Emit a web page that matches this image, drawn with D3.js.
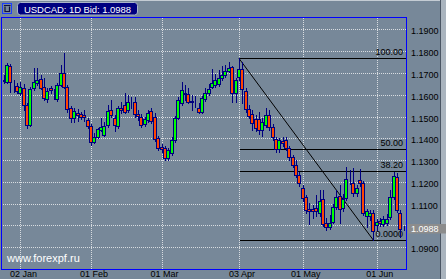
<!DOCTYPE html>
<html><head><meta charset="utf-8">
<script src="https://cdn.jsdelivr.net/npm/d3@7"></script>
<style>html,body{margin:0;padding:0;background:#778899;overflow:hidden}</style>
</head><body><svg id="c" width="446" height="279"></svg>
<script>
const symbol = "USDCAD";
const timeframe = "1D";
const bid = 1.0988;
const watermark = "www.forexpf.ru";

const opens = [
1.1667,1.1660,1.1731,1.1646,1.1639,1.1610,1.1630,1.1552,1.1463,1.1629,
1.1652,1.1672,1.1635,1.1579,1.1629,1.1603,1.1579,1.1644,1.1698,1.1636,
1.1537,1.1491,1.1517,1.1511,1.1507,1.1484,1.1456,1.1384,1.1407,1.1438,
1.1415,1.1461,1.1529,1.1491,1.1456,1.1539,1.1552,1.1529,1.1561,1.1567,
1.1511,1.1499,1.1465,1.1484,1.1523,1.1499,1.1400,1.1361,1.1354,1.1308,
1.1331,1.1392,1.1493,1.1560,1.1607,1.1603,1.1571,1.1560,1.1537,1.1522,
1.1579,1.1606,1.1636,1.1644,1.1647,1.1675,1.1690,1.1710,1.1725,1.1606,
1.1679,1.1716,1.1618,1.1534,1.1511,1.1487,1.1487,1.1438,1.1461,1.1507,
1.1450,1.1395,1.1349,1.1388,1.1392,1.1354,1.1315,1.1277,1.1231,1.1170,
1.1132,1.1075,1.1075,1.1078,1.1056,1.1121,1.1012,1.0993,1.1017,1.1083,
1.1135,1.1080,1.1124,1.1205,1.1196,1.1147,1.1208,1.1193,1.1043,1.1043,
1.1058,1.1002,1.1020,1.1007,1.1011,1.1040,1.1132,1.1223,1.1058,1.0990];
const highs = [
1.1690,1.1745,1.1740,1.1667,1.1653,1.1658,1.1649,1.1561,1.1636,1.1721,
1.1722,1.1690,1.1676,1.1630,1.1639,1.1626,1.1653,1.1736,1.1792,1.1644,
1.1548,1.1539,1.1534,1.1520,1.1529,1.1493,1.1465,1.1424,1.1447,1.1493,
1.1474,1.1552,1.1575,1.1507,1.1548,1.1566,1.1606,1.1598,1.1589,1.1589,
1.1529,1.1511,1.1497,1.1529,1.1539,1.1516,1.1410,1.1373,1.1364,1.1355,
1.1406,1.1502,1.1589,1.1658,1.1644,1.1630,1.1598,1.1594,1.1561,1.1594,
1.1630,1.1649,1.1716,1.1695,1.1713,1.1731,1.1736,1.1750,1.1731,1.1676,
1.1767,1.1750,1.1630,1.1552,1.1529,1.1507,1.1520,1.1493,1.1539,1.1529,
1.1465,1.1406,1.1401,1.1406,1.1406,1.1364,1.1323,1.1300,1.1245,1.1185,
1.1139,1.1103,1.1094,1.1139,1.1162,1.1162,1.1034,1.1048,1.1098,1.1162,
1.1185,1.1144,1.1269,1.1254,1.1262,1.1185,1.1257,1.1204,1.1075,1.1071,
1.1071,1.1029,1.1034,1.1043,1.1052,1.1162,1.1245,1.1240,1.1071,1.0997];
const lows = [
1.1653,1.1653,1.1613,1.1612,1.1607,1.1598,1.1529,1.1447,1.1456,1.1621,
1.1644,1.1626,1.1575,1.1567,1.1607,1.1580,1.1571,1.1639,1.1630,1.1522,
1.1476,1.1474,1.1479,1.1488,1.1479,1.1447,1.1369,1.1378,1.1401,1.1433,
1.1410,1.1452,1.1497,1.1434,1.1447,1.1516,1.1516,1.1520,1.1539,1.1497,
1.1484,1.1452,1.1456,1.1474,1.1470,1.1387,1.1346,1.1337,1.1300,1.1300,
1.1323,1.1383,1.1488,1.1552,1.1575,1.1561,1.1529,1.1543,1.1516,1.1516,
1.1571,1.1598,1.1630,1.1635,1.1639,1.1667,1.1681,1.1704,1.1567,1.1567,
1.1667,1.1561,1.1520,1.1493,1.1438,1.1433,1.1419,1.1410,1.1452,1.1438,
1.1392,1.1337,1.1337,1.1364,1.1346,1.1300,1.1268,1.1222,1.1181,1.1112,
1.1057,1.1007,1.1034,1.1043,1.1043,1.0997,1.0979,1.0984,1.1011,1.1075,
1.1011,1.1066,1.1117,1.1190,1.1135,1.1135,1.1181,1.1048,1.0994,1.1025,
1.0933,1.0979,1.0997,1.0997,1.1002,1.1029,1.1121,1.1062,1.0947,1.0979];
const closes = [
1.1665,1.1738,1.1656,1.1644,1.1619,1.1636,1.1555,1.1463,1.1624,1.1656,
1.1667,1.1629,1.1583,1.1618,1.1620,1.1601,1.1644,1.1698,1.1636,1.1533,
1.1491,1.1527,1.1507,1.1496,1.1497,1.1456,1.1384,1.1407,1.1441,1.1452,
1.1456,1.1526,1.1507,1.1461,1.1537,1.1529,1.1522,1.1567,1.1560,1.1511,
1.1502,1.1461,1.1487,1.1517,1.1478,1.1395,1.1354,1.1349,1.1308,1.1346,
1.1392,1.1491,1.1575,1.1621,1.1603,1.1567,1.1566,1.1561,1.1522,1.1583,
1.1606,1.1624,1.1655,1.1667,1.1675,1.1690,1.1708,1.1721,1.1609,1.1667,
1.1716,1.1624,1.1533,1.1502,1.1468,1.1445,1.1438,1.1476,1.1507,1.1450,
1.1404,1.1349,1.1392,1.1379,1.1355,1.1315,1.1277,1.1231,1.1193,1.1124,
1.1071,1.1068,1.1068,1.1066,1.1113,1.1007,1.0991,1.1011,1.1086,1.1132,
1.1074,1.1121,1.1212,1.1204,1.1147,1.1170,1.1193,1.1058,1.1066,1.1057,
1.0974,1.1017,1.1011,1.1028,1.1029,1.1132,1.1227,1.1071,1.0982,1.0988];

const dateLabels = ["02 Jan","01 Feb","01 Mar","03 Apr","01 May","01 Jun"];
const dateLabelBars = [5,26,47,70,89,111];
const priceTicks = [1.09,1.10,1.11,1.12,1.13,1.14,1.15,1.16,1.17,1.18,1.19];
const fibLevels = [0, 38.2, 50, 100];
const fibLabels = ["0.0000","38.20","50.00","100.00"];
const fibHighBar = 70, fibLowBar = 110;

const svg = d3.select("#c");
const W = 446, H = 279;
const plot = {l:2, r:406, t:17, b:269};
const FONT = "'Liberation Sans', Arial, sans-serif";

svg.append("rect").attr("width",W).attr("height",H).attr("fill","#778899");
// window edges
svg.append("line").attr("x1",0).attr("x2",W).attr("y1",0.5).attr("y2",0.5).attr("stroke","#c4ccd4");
svg.append("rect").attr("x",441).attr("y",0).attr("width",5).attr("height",H).attr("fill","#aab4be");
svg.append("line").attr("x1",440.5).attr("x2",440.5).attr("y1",0).attr("y2",H).attr("stroke","#4a5563");

const x = d3.scaleLinear().domain([0, opens.length-1]).range([3.6, 403.6]);
const y = d3.scaleLinear().domain([1.09, 1.19]).range([247.3, 29.3]);
const px = v => Math.round(v) + 0.5;

// grid
const grid = svg.append("g").attr("shape-rendering","crispEdges")
  .attr("stroke","#d8dce0").attr("stroke-dasharray","1,1");
grid.selectAll("line.h").data(priceTicks).join("line").attr("class","h")
  .attr("x1",plot.l+1).attr("x2",plot.r).attr("y1",d=>px(y(d))).attr("y2",d=>px(y(d)));
grid.selectAll("line.v").data(dateLabelBars).join("line").attr("class","v")
  .attr("x1",d=>px(x(d))).attr("x2",d=>px(x(d))).attr("y1",plot.t+1).attr("y2",plot.b);

svg.append("clipPath").attr("id","clip").append("rect")
  .attr("x",plot.l+1).attr("y",plot.t+1).attr("width",plot.r-plot.l-1).attr("height",plot.b-plot.t-1);

// fibonacci
const fHigh = highs[fibHighBar], fLow = lows[fibLowBar];
const fg = svg.append("g").attr("clip-path","url(#clip)");
fg.selectAll("line.fib").data(fibLevels).join("line").attr("class","fib")
  .attr("shape-rendering","crispEdges")
  .attr("x1",px(x(fibHighBar))).attr("x2",plot.r)
  .attr("y1",d=>px(y(fLow + d/100*(fHigh-fLow)))).attr("y2",d=>px(y(fLow + d/100*(fHigh-fLow))))
  .attr("stroke","#000").attr("stroke-width",1);
fg.append("line").attr("x1",x(fibHighBar)).attr("y1",y(fHigh)).attr("x2",x(fibLowBar)).attr("y2",y(fLow))
  .attr("stroke","#000").attr("stroke-width",1);

// candles
const bars = d3.range(opens.length).map(i => ({i, o:opens[i], h:highs[i], l:lows[i], c:closes[i]}));
const cg = svg.append("g").attr("clip-path","url(#clip)").attr("shape-rendering","crispEdges");
cg.selectAll("line.wick").data(bars).join("line").attr("class","wick")
  .attr("x1",d=>px(x(d.i))).attr("x2",d=>px(x(d.i)))
  .attr("y1",d=>Math.round(y(d.h))).attr("y2",d=>Math.round(y(d.l))+1)
  .attr("stroke","#000080");
cg.selectAll("rect.body").data(bars).join("rect").attr("class","body")
  .attr("x",d=>Math.round(x(d.i))-1.5).attr("width",3)
  .attr("y",d=>Math.round(y(Math.max(d.o,d.c)))+0.5)
  .attr("height",d=>Math.max(0, Math.round(y(Math.min(d.o,d.c))) - Math.round(y(Math.max(d.o,d.c)))))
  .attr("fill",d=>d.c>d.o ? "#00ff00" : "#ff4500")
  .attr("stroke","#000080").attr("stroke-width",1);

// fib labels
fg.selectAll("text.fibl").data(fibLevels).join("text").attr("class","fibl")
  .attr("x",403).attr("y",d=>Math.round(y(fLow + d/100*(fHigh-fLow)))-3)
  .attr("text-anchor","end").attr("font-family",FONT).attr("font-size",9).attr("fill","#000")
  .text((d,i)=>fibLabels[i]);

// frame
svg.append("rect").attr("x",plot.l-0.5).attr("y",plot.t+0.5).attr("width",plot.r-plot.l+0.5).attr("height",plot.b-plot.t)
  .attr("fill","none").attr("stroke","#0000ff").attr("shape-rendering","crispEdges");

// price axis
const yAxis = d3.axisRight(y).tickValues(priceTicks).tickFormat(d3.format(".4f")).tickSize(0).tickPadding(0);
svg.append("g").attr("transform","translate(411,0)").call(yAxis)
  .call(g=>g.select(".domain").remove())
  .call(g=>g.selectAll("text").attr("x",0).attr("dy",null).attr("y",4.5)
     .attr("fill","#000").attr("font-family",FONT).attr("font-size",9));

// date axis
const xAxis = d3.axisBottom(x).tickValues(dateLabelBars).tickFormat((d,i)=>dateLabels[i]).tickSize(0).tickPadding(0);
svg.append("g").attr("transform",`translate(2.5,${plot.b})`).call(xAxis)
  .call(g=>g.select(".domain").remove())
  .call(g=>g.selectAll("text").attr("dy",null).attr("y",7.5)
     .attr("fill","#000").attr("font-family",FONT).attr("font-size",9));

// current price box
const by = Math.round(y(bid));
svg.append("rect").attr("x",408).attr("y",by-4).attr("width",38).attr("height",9.5).attr("fill","#8c8c8c");
svg.append("text").attr("x",411).attr("y",by+4).attr("fill","#fff").attr("font-family",FONT).attr("font-size",9)
  .text(d3.format(".4f")(bid));

// watermark
svg.append("text").attr("x",7).attr("y",262).attr("fill","#fff").attr("font-family",FONT).attr("font-size",11)
  .text(watermark);

// header
svg.append("rect").attr("x",2.5).attr("y",3.5).attr("width",9).attr("height",10).attr("fill","none").attr("stroke","#1a3cff");
svg.append("path").attr("d","M5 6.5 L5 11.5 L9.5 11.5 L9.5 6.5 M4 5.5 L10.5 5.5").attr("fill","none").attr("stroke","#101040").attr("stroke-width",1.2);
svg.append("rect").attr("x",17.5).attr("y",2.5).attr("width",120).attr("height",12.5).attr("rx",3)
  .attr("fill","#000080").attr("stroke","#aab4c8");
svg.append("text").attr("x",24).attr("y",12.5).attr("fill","#fff").attr("font-family",FONT).attr("font-size",9.5)
  .attr("textLength",107).attr("lengthAdjust","spacing")
  .text(`${symbol}: ${timeframe} Bid: ${d3.format(".4f")(bid)}`);
</script></body></html>
